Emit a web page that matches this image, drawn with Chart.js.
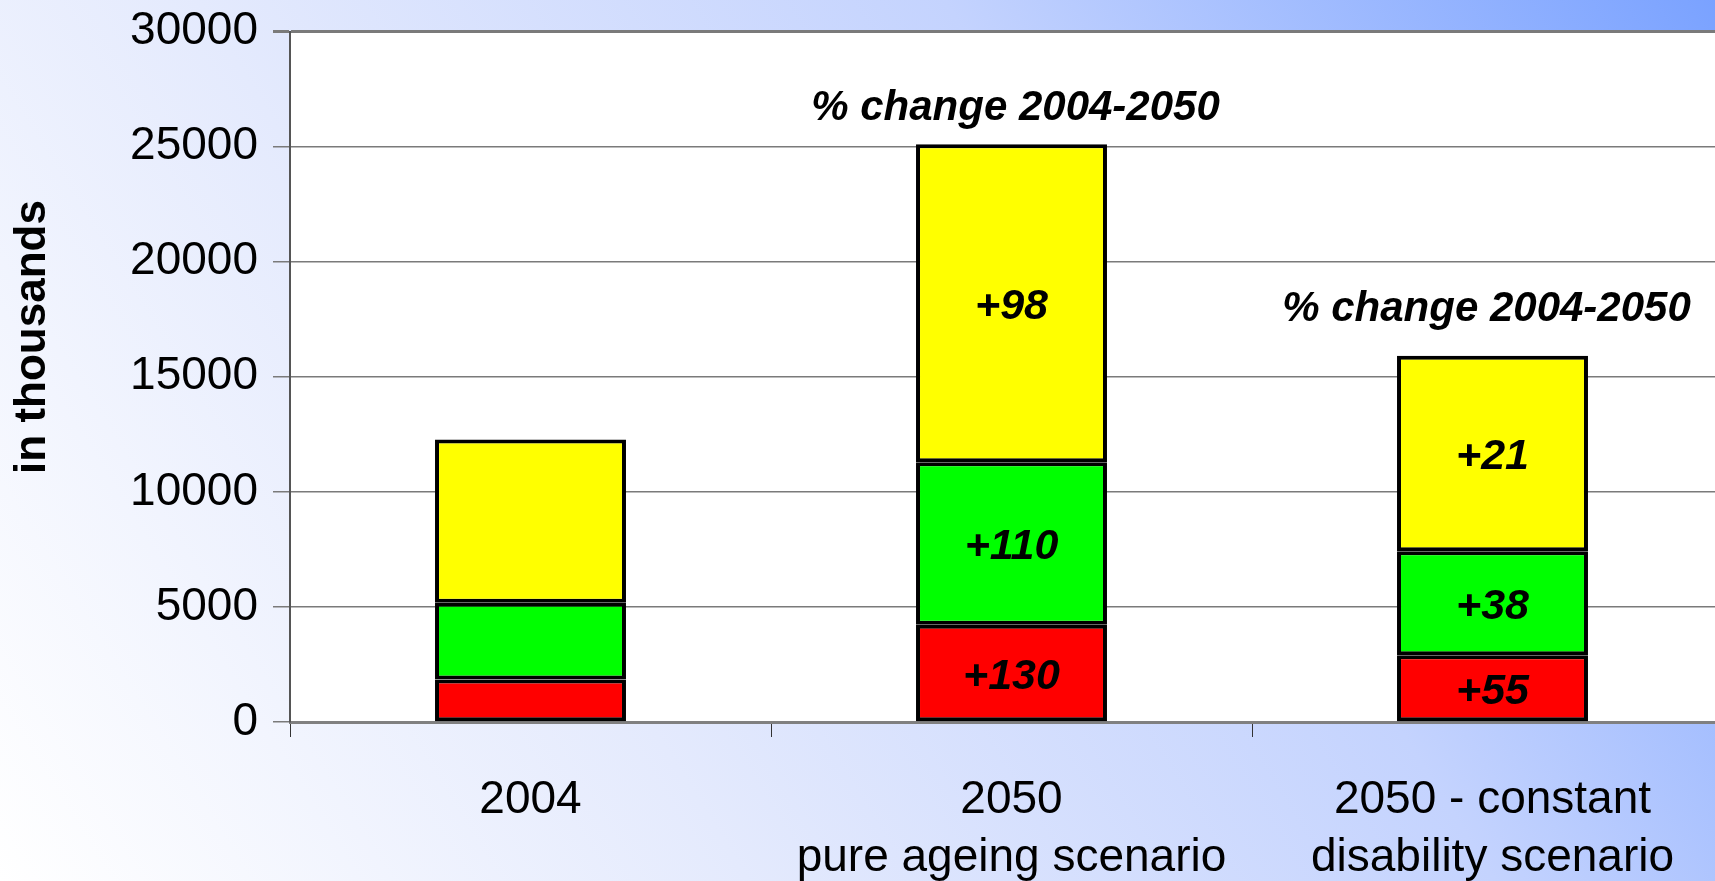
<!DOCTYPE html>
<html>
<head>
<meta charset="utf-8">
<script src="https://cdn.jsdelivr.net/npm/chart.js@4/dist/chart.umd.min.js"></script>
<style>
  html, body { margin: 0; padding: 0; width: 1715px; height: 881px; overflow: hidden; }
  body { background: linear-gradient(58deg, #ffffff 0%, #e4eafd 33%, #c4d3fe 66%, #7aa2ff 100%); }
  #wrap { position: absolute; left: 0; top: -11px; width: 1760px; height: 892px; }
</style>
</head>
<body>
<div id="wrap"><canvas id="chart"></canvas></div>
<script>
// values in thousands
const categories = [["2004"], ["2050", "pure ageing scenario"], ["2050 - constant", "disability scenario"]];
const redValues = [1850, 4230, 2900];
const greenValues = [3330, 7060, 4520];
const yellowValues = [7100, 13810, 8490];
// % change 2004-2050 written inside the segments
const redChange = ["", "+130", "+55"];
const greenChange = ["", "+110", "+38"];
const yellowChange = ["", "+98", "+21"];
const noteText = "% change 2004-2050";
const yMax = 30000;
const yStep = 5000;

Chart.defaults.font.family = "'Liberation Sans', Arial, sans-serif";
Chart.defaults.color = "#000";

const FONT = "'Liberation Sans', Arial, sans-serif";

const plotBackground = {
    id: "plotBackground",
    beforeDraw(chart) {
        const { ctx, chartArea: a } = chart;
        ctx.save();
        ctx.fillStyle = "#ffffff";
        ctx.fillRect(a.left, a.top, a.right - a.left, a.bottom - a.top);
        ctx.restore();
    },
};

const yTitle = {
    id: "yTitle",
    afterDraw(chart) {
        const ctx = chart.ctx;
        ctx.save();
        // canvas sits 11px above the page, so add it back
        ctx.translate(33, 337 + 11);
        ctx.rotate(-Math.PI / 2);
        ctx.font = "bold 44px " + FONT;
        ctx.fillStyle = "#000";
        ctx.textAlign = "center";
        ctx.textBaseline = "middle";
        ctx.fillText("in thousands", 0, 0);
        ctx.restore();
    },
};

const changeLabels = {
    id: "changeLabels",
    afterDatasetsDraw(chart) {
        const ctx = chart.ctx;
        const lists = [redChange, greenChange, yellowChange];
        ctx.save();
        ctx.fillStyle = "#000";
        ctx.textAlign = "center";
        ctx.textBaseline = "middle";
        ctx.font = "italic bold 43px " + FONT;
        lists.forEach((list, di) => {
            const meta = chart.getDatasetMeta(di);
            meta.data.forEach((bar, i) => {
                if (!list[i]) return;
                ctx.fillText(list[i], bar.x, (bar.y + bar.base) / 2 + 4);
            });
        });
        // note above the two 2050 bars
        const top = chart.getDatasetMeta(2).data;
        const lift = [0, 36, 46];
        const shift = [0, 4, -6];
        ctx.font = "italic bold 42px " + FONT;
        [1, 2].forEach((i) => {
            ctx.fillText(noteText, top[i].x + shift[i], top[i].y - lift[i]);
        });
        ctx.restore();
    },
};

const ctx = document.getElementById("chart").getContext("2d");
const chart = new Chart(ctx, {
    type: "bar",
    data: {
        labels: categories,
        datasets: [
            { data: redValues, backgroundColor: "#ff0000" },
            { data: greenValues, backgroundColor: "#00ff00" },
            { data: yellowValues, backgroundColor: "#ffff00" },
        ].map((d) => ({
            ...d,
            borderColor: "#000",
            borderWidth: 4,
            borderSkipped: false,
            categoryPercentage: 1,
            barPercentage: 0.397,
        })),
    },
    options: {
        responsive: true,
        maintainAspectRatio: false,
        animation: false,
        layout: { padding: { top: 19, right: 27, left: 0, bottom: 0 } },
        plugins: {
            legend: { display: false },
            tooltip: { enabled: false },
        },
        scales: {
            x: {
                stacked: true,
                afterFit(scale) { scale.height = 159; },
                grid: {
                    drawOnChartArea: false,
                    offset: true,
                    tickLength: 15,
                    color: "#333",
                    lineWidth: 1,
                },
                border: { color: "#808080", width: 3 },
                ticks: {
                    font: { size: 46, lineHeight: 1.25 },
                    padding: 35,
                    maxRotation: 0,
                    autoSkip: false,
                },
            },
            y: {
                stacked: true,
                min: 0,
                max: yMax,
                afterFit(scale) { scale.width = 290; },
                grid: {
                    color: "#7a7a7a",
                    lineWidth: (c) => (c.tick && c.tick.value === yMax ? 3 : 1.5),
                    tickLength: 17,
                },
                border: { color: "#555", width: 2 },
                ticks: {
                    stepSize: yStep,
                    font: { size: 46 },
                    padding: 15,
                    callback: (v) => String(v),
                },
            },
        },
    },
    plugins: [plotBackground, changeLabels, yTitle],
});
</script>
</body>
</html>
